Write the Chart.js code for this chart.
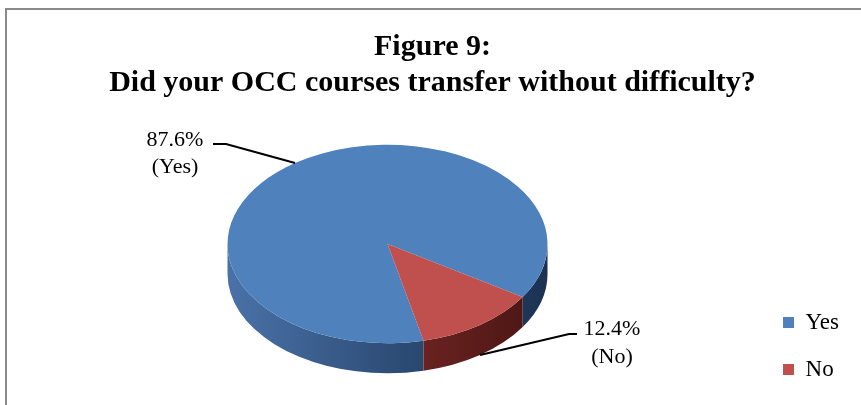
<!DOCTYPE html>
<html>
<head>
<meta charset="utf-8">
<script src="https://cdn.jsdelivr.net/npm/chart.js@4.4.0/dist/chart.umd.min.js"></script>
<style>
  html, body { margin: 0; padding: 0; background: #fff; overflow: hidden; }
  #marco { position: absolute; left: 5px; top: 8px; width: 900px; height: 460px; border: 2px solid #8a8a8a; box-sizing: border-box; }
  #caja { position: absolute; left: 0; top: 0; width: 861px; height: 405px; }
</style>
</head>
<body>
<div id="marco"></div>
<div id="caja"><canvas id="grafico" width="861" height="405"></canvas></div>
<script>
const categorias = ["Yes", "No"];
const porcentajes = [87.6, 12.4];
const etiquetasTexto = [["87.6%", "(Yes)"], ["12.4%", "(No)"]];
const titulo = ["Figure 9:", "Did your OCC courses transfer without difficulty?"];

const coloresCara = ["#4F81BD", "#C0504D"];
const coloresLado = [
  ["#4a72a8", "#2c4b74", "#1b3252"],
  ["#a3413e", "#6e2422", "#481513"]
];
const aplastado = 0.62;   // relación alto/ancho de la elipse
const profundidad = 30;   // grosor del pastel en px
const fuente = "'Liberation Serif', 'Times New Roman', serif";

// posición de cada etiqueta respecto al punto de anclaje en el borde
const posEtiquetas = [
  { tx: -120, ty: [-17, 10], linea: [[-69, -19], [-82, -19]] },
  { tx: 132, ty: [-20, 8], linea: [[89, -21], [97, -21]] }
];

// Dibuja el costado del pastel y aplasta la cara superior
const pastel3D = {
  id: "pastel3D",
  beforeDatasetsDraw(chart) {
    const ctx = chart.ctx;
    const arcos = chart.getDatasetMeta(0).data;
    const cx = arcos[0].x, cy = arcos[0].y;
    ctx.save();
    ctx.translate(cx, cy);
    ctx.scale(1, aplastado);
    ctx.translate(-cx, -cy);
    const dU = profundidad / aplastado;
    arcos.forEach((arco, i) => {
      const r = arco.outerRadius;
      const grad = ctx.createLinearGradient(cx - r, 0, cx + r, 0);
      grad.addColorStop(0, coloresLado[i][0]);
      grad.addColorStop(0.55, coloresLado[i][1]);
      grad.addColorStop(1, coloresLado[i][2]);
      for (let k = 0; k < 2; k++) {
        const a0 = Math.max(arco.startAngle, 2 * Math.PI * k);
        const a1 = Math.min(arco.endAngle, 2 * Math.PI * k + Math.PI);
        if (a1 <= a0) continue;
        ctx.beginPath();
        ctx.arc(cx, cy, r, a0, a1);
        ctx.arc(cx, cy + dU, r, a1, a0, true);
        ctx.closePath();
        ctx.fillStyle = grad;
        ctx.fill();
      }
    });
  },
  afterDatasetsDraw(chart) {
    chart.ctx.restore();
  },
  afterDraw(chart) {
    const ctx = chart.ctx;
    const arcos = chart.getDatasetMeta(0).data;
    ctx.save();
    arcos.forEach((arco, i) => {
      const mid = (arco.startAngle + arco.endAngle) / 2;
      const ax = arco.x + arco.outerRadius * Math.cos(mid);
      let ay = arco.y + arco.outerRadius * Math.sin(mid) * aplastado;
      if (Math.sin(mid) > 0) ay += profundidad;
      const p = posEtiquetas[i];
      ctx.beginPath();
      ctx.moveTo(ax, ay);
      p.linea.forEach(([dx, dy]) => ctx.lineTo(ax + dx, ay + dy));
      ctx.strokeStyle = "#000";
      ctx.lineWidth = 2;
      ctx.stroke();
      ctx.fillStyle = "#000";
      ctx.font = "22px " + fuente;
      ctx.textAlign = "center";
      ctx.textBaseline = "alphabetic";
      etiquetasTexto[i].forEach((t, j) => ctx.fillText(t, ax + p.tx, ay + p.ty[j]));
    });
    ctx.restore();
  }
};

new Chart(document.getElementById("grafico"), {
  type: "pie",
  data: {
    labels: categorias,
    datasets: [{
      data: porcentajes,
      backgroundColor: coloresCara,
      borderWidth: 0,
      radius: 160
    }]
  },
  plugins: [pastel3D],
  options: {
    responsive: false,
    animation: false,
    devicePixelRatio: 1,
    rotation: 167,
    layout: { padding: { left: 16, right: 12, bottom: 0 } },
    plugins: {
      title: {
        display: true,
        text: titulo,
        color: "#000",
        font: { family: fuente, size: 30, weight: "bold", lineHeight: 1.2 },
        padding: { top: 29, bottom: -18 }
      },
      legend: {
        position: "right",
        align: "end",
        labels: {
          boxWidth: 11,
          boxHeight: 11,
          color: "#000",
          font: { family: fuente, size: 23 },
          padding: 24
        }
      },
      tooltip: { enabled: false }
    }
  }
});
</script>
</body>
</html>
